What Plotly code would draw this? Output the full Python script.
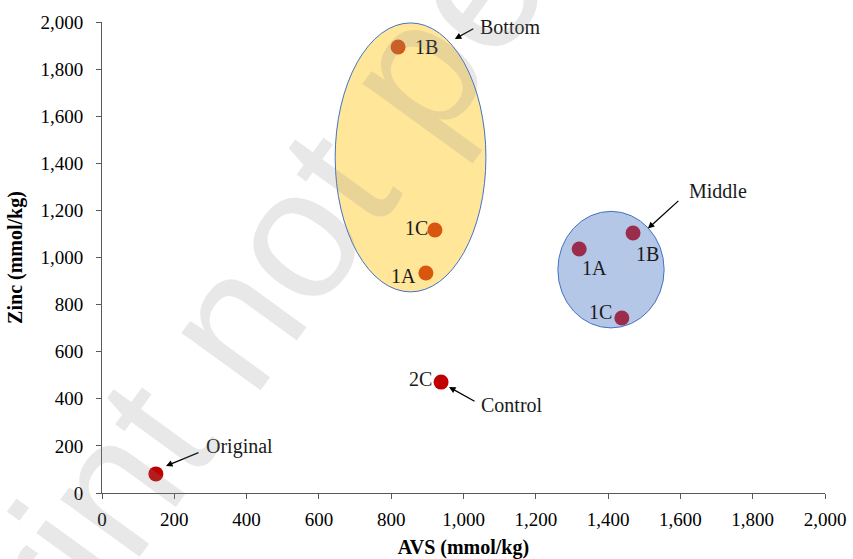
import plotly.graph_objects as go

# ---- data ----
orig_x = [149]; orig_y = [81]
ctrl_x = [938]; ctrl_y = [471]; ctrl_lbl = ["2C"]
bot_x = [896, 819, 921]; bot_y = [934, 1894, 1117]; bot_lbl = ["1A", "1B", "1C"]
mid_x = [1320, 1469, 1438]; mid_y = [1036, 1104, 743]; mid_lbl = ["1A", "1B", "1C"]
bot_ellipse = [645, 1062, 854, 1996]   # x0, x1, y0, y1
mid_ellipse = [1261, 1555, 701, 1196]
x_ticks = list(range(0, 2001, 200))
y_ticks = list(range(0, 2001, 200))

SERIF = "Liberation Serif, Times New Roman, serif"

fig = go.Figure()

fig.add_shape(type="circle", xref="x", yref="y",
              x0=bot_ellipse[0], x1=bot_ellipse[1], y0=bot_ellipse[2], y1=bot_ellipse[3],
              fillcolor="#FFE699", line=dict(color="#4472C4", width=1), layer="below")
fig.add_shape(type="circle", xref="x", yref="y",
              x0=mid_ellipse[0], x1=mid_ellipse[1], y0=mid_ellipse[2], y1=mid_ellipse[3],
              fillcolor="#B4C7E7", line=dict(color="#4472C4", width=1), layer="below")

mk = dict(size=15, line=dict(width=0))
fig.add_trace(go.Scatter(x=orig_x, y=orig_y, mode="markers", marker=dict(color="#C00000", **mk)))
fig.add_trace(go.Scatter(x=ctrl_x, y=ctrl_y, mode="markers", marker=dict(color="#C00000", **mk)))
fig.add_trace(go.Scatter(x=bot_x, y=bot_y, mode="markers", marker=dict(color="#D9560F", **mk)))
fig.add_trace(go.Scatter(x=mid_x, y=mid_y, mode="markers", marker=dict(color="#9B2D4C", **mk)))

lblfont = dict(family=SERIF, size=20, color="#1a1a1a")

def label(x, y, t, dx, dy):
    fig.add_annotation(x=x, y=y, text=t, showarrow=False, xshift=dx, yshift=dy, font=lblfont)

# point labels: offsets in pixels
bot_off = [(-22, -3), (28, 0), (-18, 2)]
mid_off = [(15, -19), (14, -21), (-21, 6)]
for xx, yy, t, (dx, dy) in zip(bot_x, bot_y, bot_lbl, bot_off):
    label(xx, yy, t, dx, dy)
for xx, yy, t, (dx, dy) in zip(mid_x, mid_y, mid_lbl, mid_off):
    label(xx, yy, t, dx, dy)
label(ctrl_x[0], ctrl_y[0], ctrl_lbl[0], -21, 3)

# group annotations: arrow (head at data point, tail offset in px) + text
def arrow_text(x, y, ax, ay, text, tdx, tdy):
    fig.add_annotation(x=x, y=y, ax=ax, ay=ay, text="", showarrow=True,
                       arrowhead=2, arrowsize=1, arrowwidth=1.3, arrowcolor="#000000",
                       standoff=0, startstandoff=0)
    fig.add_annotation(x=x, y=y, text=text, showarrow=False, xshift=tdx, yshift=tdy, font=lblfont)

arrow_text(976, 1928, 20, -11, "Bottom", 55, 12)
arrow_text(1510, 1123, 32, -29, "Middle", 70, 38)
arrow_text(960, 450, 27, 15, "Control", 63, -18)
arrow_text(177, 115, 34, -14, "Original", 74, 19)

# watermark
fig.add_annotation(xref="paper", yref="paper", x=(428 - 102) / 723, y=(493 - 51) / 471,
                   xanchor="center", yanchor="middle",
                   text="Preprint not peer reviewed", showarrow=False, textangle=-54,
                   font=dict(family="Liberation Sans, Arial, sans-serif", size=185,
                             color="rgba(140,140,140,0.2)"))

axis_common = dict(showgrid=False, zeroline=False, showline=True, linecolor="#595959", linewidth=1,
                   ticks="outside", ticklen=5, tickcolor="#595959", tickwidth=1,
                   tickfont=dict(family=SERIF, size=19, color="#000000"),
                   tickformat=",d", mirror=False)

fig.update_xaxes(range=[0, 2000], tickvals=x_ticks, ticklabelstandoff=4,
                 title=dict(text="<b>AVS (mmol/kg)</b>", font=dict(family=SERIF, size=20, color="#000"),
                            standoff=14), **axis_common)
fig.update_yaxes(range=[0, 2000], tickvals=y_ticks, ticklabelstandoff=9,
                 title=dict(text="<b>Zinc (mmol/kg)</b>", font=dict(family=SERIF, size=20, color="#000"),
                            standoff=12), **axis_common)

fig.update_layout(width=853, height=559, showlegend=False,
                  margin=dict(l=102, r=28, t=22, b=66, autoexpand=False),
                  plot_bgcolor="white", paper_bgcolor="white")

fig.write_html("out.html", config={"displayModeBar": False},
               post_script="document.body.style.margin='0px';document.body.style.overflow='hidden';")
